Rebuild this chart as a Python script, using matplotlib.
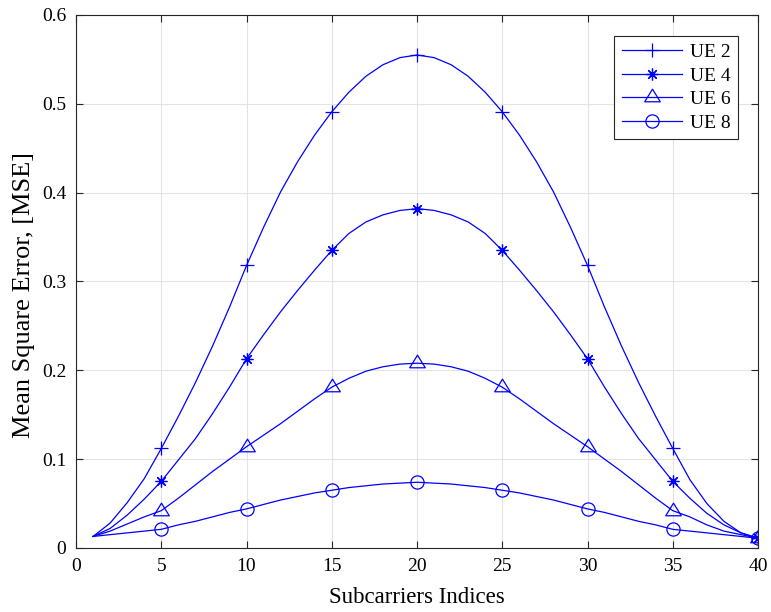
import numpy as np
import matplotlib.pyplot as plt
from matplotlib.path import Path
from matplotlib.ticker import FuncFormatter

plt.rcParams['font.family'] = ['Liberation Serif', 'DejaVu Serif']

# subcarrier indices and MSE per UE
idx = np.arange(1, 41)
ue2 = [0.013, 0.028, 0.051, 0.078, 0.112, 0.148, 0.186, 0.227, 0.271, 0.318,
       0.361, 0.401, 0.435, 0.465, 0.491, 0.513, 0.531, 0.544, 0.552, 0.555,
       0.552, 0.544, 0.531, 0.513, 0.491, 0.465, 0.435, 0.401, 0.361, 0.318,
       0.271, 0.227, 0.186, 0.148, 0.112, 0.077, 0.050, 0.030, 0.017, 0.011]
ue4 = [0.013, 0.022, 0.037, 0.055, 0.075, 0.099, 0.123, 0.151, 0.181, 0.213,
       0.240, 0.266, 0.290, 0.313, 0.335, 0.354, 0.367, 0.375, 0.380, 0.382,
       0.380, 0.375, 0.367, 0.354, 0.335, 0.313, 0.290, 0.266, 0.240, 0.213,
       0.181, 0.151, 0.123, 0.099, 0.075, 0.056, 0.039, 0.026, 0.017, 0.011]
ue6 = [0.013, 0.019, 0.027, 0.035, 0.042, 0.056, 0.071, 0.086, 0.100, 0.114,
       0.127, 0.140, 0.154, 0.168, 0.181, 0.191, 0.199, 0.204, 0.207, 0.208,
       0.207, 0.204, 0.199, 0.191, 0.181, 0.168, 0.154, 0.140, 0.127, 0.114,
       0.100, 0.086, 0.071, 0.056, 0.042, 0.035, 0.026, 0.019, 0.015, 0.011]
ue8 = [0.013, 0.015, 0.017, 0.019, 0.021, 0.026, 0.030, 0.035, 0.040, 0.044,
       0.049, 0.054, 0.058, 0.062, 0.065, 0.068, 0.070, 0.072, 0.073, 0.074,
       0.073, 0.072, 0.070, 0.068, 0.065, 0.062, 0.058, 0.054, 0.049, 0.044,
       0.040, 0.035, 0.030, 0.026, 0.021, 0.019, 0.017, 0.015, 0.013, 0.011]
labels = ['UE 2', 'UE 4', 'UE 6', 'UE 8']

# matlab-like triangle, data point near the centroid
tri = Path([(0, 1.07), (-1, -0.55), (1, -0.55), (0, 1.07)],
           [Path.MOVETO, Path.LINETO, Path.LINETO, Path.CLOSEPOLY])
markers = ['+', (8, 2, 0), tri, 'o']
msizes = [10, 8.5, 12, 9.5]

fig = plt.figure(figsize=(7.71, 6.12), dpi=100)
ax = fig.add_axes([0.0986, 0.1046, 0.8846, 0.8709])

for y, lab, mk, ms in zip([ue2, ue4, ue6, ue8], labels, markers, msizes):
    ax.plot(idx, y, color='#0000ff', lw=0.9, marker=mk, ms=ms,
            markevery=slice(4, None, 5), mfc='none', mec='#0000ff',
            mew=0.9, label=lab)

ax.set_xlim(0, 40)
ax.set_ylim(0, 0.6)
ax.set_xticks(np.arange(0, 41, 5))
ax.set_yticks(np.arange(0, 0.61, 0.1))
ax.yaxis.set_major_formatter(FuncFormatter(lambda v, p: '%g' % round(v, 2)))
ax.grid(True, color='#e3e3e3', lw=0.8)
ax.set_axisbelow(True)
ax.tick_params(direction='in', length=5, width=0.8, top=True, right=True,
               labelsize=14, pad=7, color='#262626')
for s in ax.spines.values():
    s.set_linewidth(0.8)
    s.set_color('#262626')

ax.set_xlabel('Subcarriers Indices', fontsize=16.5, labelpad=9)
ax.set_ylabel('Mean Square Error, [MSE]', fontsize=19)
ax.yaxis.set_label_coords(-0.060, 0.475)

leg = ax.legend(loc='upper right', bbox_to_anchor=(0.971, 0.961),
                fontsize=14, handlelength=3.1, fancybox=False,
                framealpha=1, edgecolor='#262626', borderpad=0.4,
                labelspacing=0.3, handletextpad=0.4, borderaxespad=0)
leg.get_frame().set_linewidth(0.8)

fig.savefig('out.png', dpi=100)
